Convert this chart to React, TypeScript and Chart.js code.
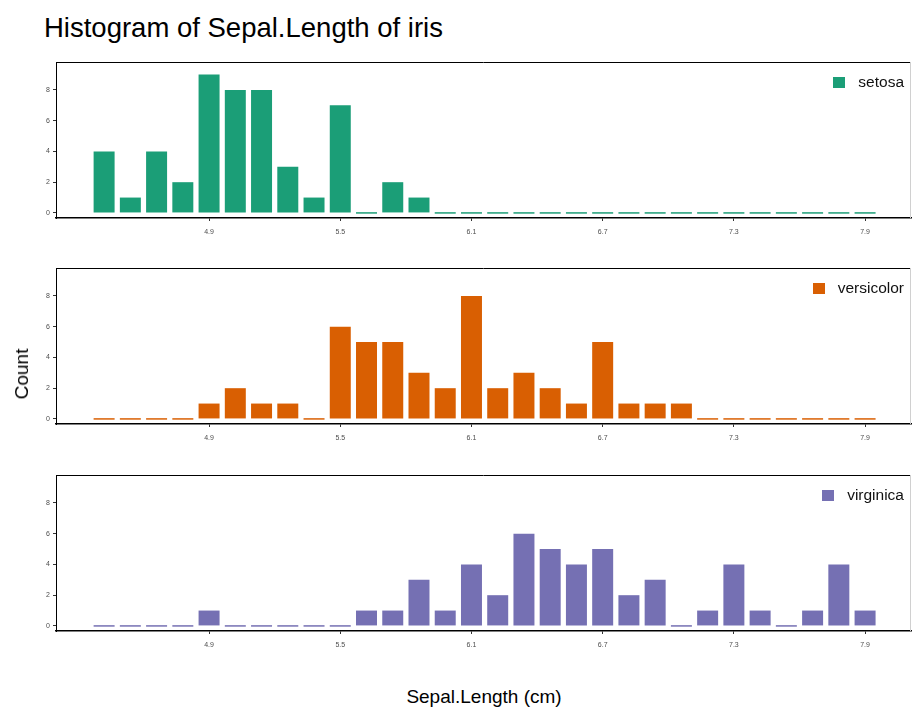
import React, { useEffect, useRef } from "react";
import { Chart, registerables } from "chart.js";

Chart.register(...registerables);

const titleText = "Histogram of Sepal.Length of iris";
const xTitle = "Sepal.Length (cm)";
const yTitle = "Count";

const binCenters = [
  4.42, 4.54, 4.66, 4.78, 4.9, 5.02, 5.14, 5.26, 5.38, 5.5,
  5.62, 5.74, 5.86, 5.98, 6.1, 6.22, 6.34, 6.46, 6.58, 6.7,
  6.82, 6.94, 7.06, 7.18, 7.3, 7.42, 7.54, 7.66, 7.78, 7.9,
];

const setosa = [4, 1, 4, 2, 9, 8, 8, 3, 1, 7, 0, 2, 1, 0, 0, 0, 0, 0, 0, 0, 0, 0, 0, 0, 0, 0, 0, 0, 0, 0];
const versicolor = [0, 0, 0, 0, 1, 2, 1, 1, 0, 6, 5, 5, 3, 2, 8, 2, 3, 2, 1, 5, 1, 1, 1, 0, 0, 0, 0, 0, 0, 0];
const virginica = [0, 0, 0, 0, 1, 0, 0, 0, 0, 0, 1, 1, 3, 1, 4, 2, 6, 5, 4, 5, 2, 3, 0, 1, 4, 1, 0, 1, 4, 1];

const speciesNames = ["setosa", "versicolor", "virginica"];
const speciesColors = ["#1B9E77", "#D95F02", "#7570B3"];
const speciesData = [setosa, versicolor, virginica];

const xTicks = [4.9, 5.5, 6.1, 6.7, 7.3, 7.9];
const yTicks = [0, 2, 4, 6, 8];

const X_MIN = 4.2;
const X_MAX = 8.11;
const Y_MIN = -0.33;
const Y_MAX = 9.82;

const PANEL_TOPS = [62, 268, 475];
const PANEL_H = 156;
const PAD_TOP = 10;
const X_AXIS_H = 30;
const Y_AXIS_W = 56;
const FONT = "'Liberation Sans', Arial, Helvetica, sans-serif";

const framePlugin = {
  id: "frame",
  afterDraw(chart: any) {
    const { ctx, chartArea } = chart;
    ctx.save();
    ctx.strokeStyle = "#000";
    ctx.lineWidth = 1;
    ctx.beginPath();
    ctx.moveTo(chartArea.left, chartArea.top + 0.5);
    ctx.lineTo(chartArea.right, chartArea.top + 0.5);
    ctx.stroke();
    ctx.strokeStyle = "#d0d0d0";
    ctx.beginPath();
    ctx.moveTo(chartArea.right - 0.5, chartArea.top);
    ctx.lineTo(chartArea.right - 0.5, chartArea.bottom);
    ctx.stroke();
    ctx.restore();
  },
};

function Panel({ idx }: { idx: number }) {
  const ref = useRef<HTMLCanvasElement | null>(null);
  useEffect(() => {
    if (!ref.current) return;
    const values = speciesData[idx];
    const chart = new Chart(ref.current, {
      type: "bar",
      data: {
        datasets: [
          {
            label: speciesNames[idx],
            data: binCenters.map((x, i) => ({ x, y: values[i] })),
            backgroundColor: speciesColors[idx],
            borderWidth: 0,
            minBarLength: 1.5,
            barPercentage: 0.8,
            categoryPercentage: 1,
          },
        ],
      },
      options: {
        animation: false,
        responsive: false,
        devicePixelRatio: 1,
        layout: { padding: { top: PAD_TOP, left: 0, right: 1, bottom: 0 } },
        plugins: { legend: { display: false }, tooltip: { enabled: false }, title: { display: false } },
        scales: {
          x: {
            type: "linear",
            min: X_MIN,
            max: X_MAX,
            offset: false,
            afterBuildTicks: (scale: any) => {
              scale.ticks = xTicks.map((v) => ({ value: v }));
            },
            afterFit: (scale: any) => {
              scale.height = X_AXIS_H;
            },
            grid: { display: true, drawOnChartArea: false, offset: false, tickLength: 3, color: "#333" },
            border: { display: true, color: "#000", width: 1.5 },
            ticks: {
              autoSkip: false,
              maxRotation: 0,
              padding: 7,
              color: "#4d4d4d",
              font: { size: 7, family: FONT },
              callback: (v: any) => String(v),
            },
          },
          y: {
            type: "linear",
            min: Y_MIN,
            max: Y_MAX,
            afterBuildTicks: (scale: any) => {
              scale.ticks = yTicks.map((v) => ({ value: v }));
            },
            afterFit: (scale: any) => {
              scale.width = Y_AXIS_W;
            },
            grid: { display: true, drawOnChartArea: false, tickLength: 3, color: "#333" },
            border: { display: true, color: "#000", width: 1 },
            ticks: {
              padding: 3,
              color: "#4d4d4d",
              font: { size: 7, family: FONT },
              callback: (v: any) => String(v),
            },
          },
        },
      },
      plugins: [framePlugin],
    } as any);
    return () => chart.destroy();
  }, [idx]);

  const top = PANEL_TOPS[idx];
  return (
    <>
      <canvas
        ref={ref}
        width={912}
        height={PAD_TOP + PANEL_H + X_AXIS_H}
        style={{ position: "absolute", left: 0, top: top - PAD_TOP, width: 912, height: PAD_TOP + PANEL_H + X_AXIS_H }}
      />
      <div
        style={{
          position: "absolute",
          top: top + 14,
          right: 8,
          display: "flex",
          alignItems: "center",
          fontFamily: FONT,
          fontSize: 15.5,
          color: "#111",
          lineHeight: "12px",
        }}
      >
        <span style={{ display: "inline-block", width: 12, height: 11, background: speciesColors[idx], marginRight: 13 }} />
        <span>{speciesNames[idx]}</span>
      </div>
    </>
  );
}

export default function App() {
  return (
    <div style={{ position: "absolute", left: 0, top: 0, width: 912, height: 713, background: "#fff", overflow: "hidden" }}>
      <div
        style={{
          position: "absolute",
          left: 44,
          top: 11,
          fontFamily: FONT,
          fontSize: 27.5,
          color: "#000",
          whiteSpace: "nowrap",
          lineHeight: "34px",
        }}
      >
        {titleText}
      </div>
      {[0, 1, 2].map((i) => (
        <Panel key={i} idx={i} />
      ))}
      <div
        style={{
          position: "absolute",
          left: 22,
          top: 374,
          transform: "translate(-50%, -50%) rotate(-90deg)",
          fontFamily: FONT,
          fontSize: 19,
          color: "#000",
          whiteSpace: "nowrap",
        }}
      >
        {yTitle}
      </div>
      <div
        style={{
          position: "absolute",
          left: 484,
          top: 697,
          transform: "translate(-50%, -50%)",
          fontFamily: FONT,
          fontSize: 19,
          color: "#000",
          whiteSpace: "nowrap",
        }}
      >
        {xTitle}
      </div>
    </div>
  );
}
